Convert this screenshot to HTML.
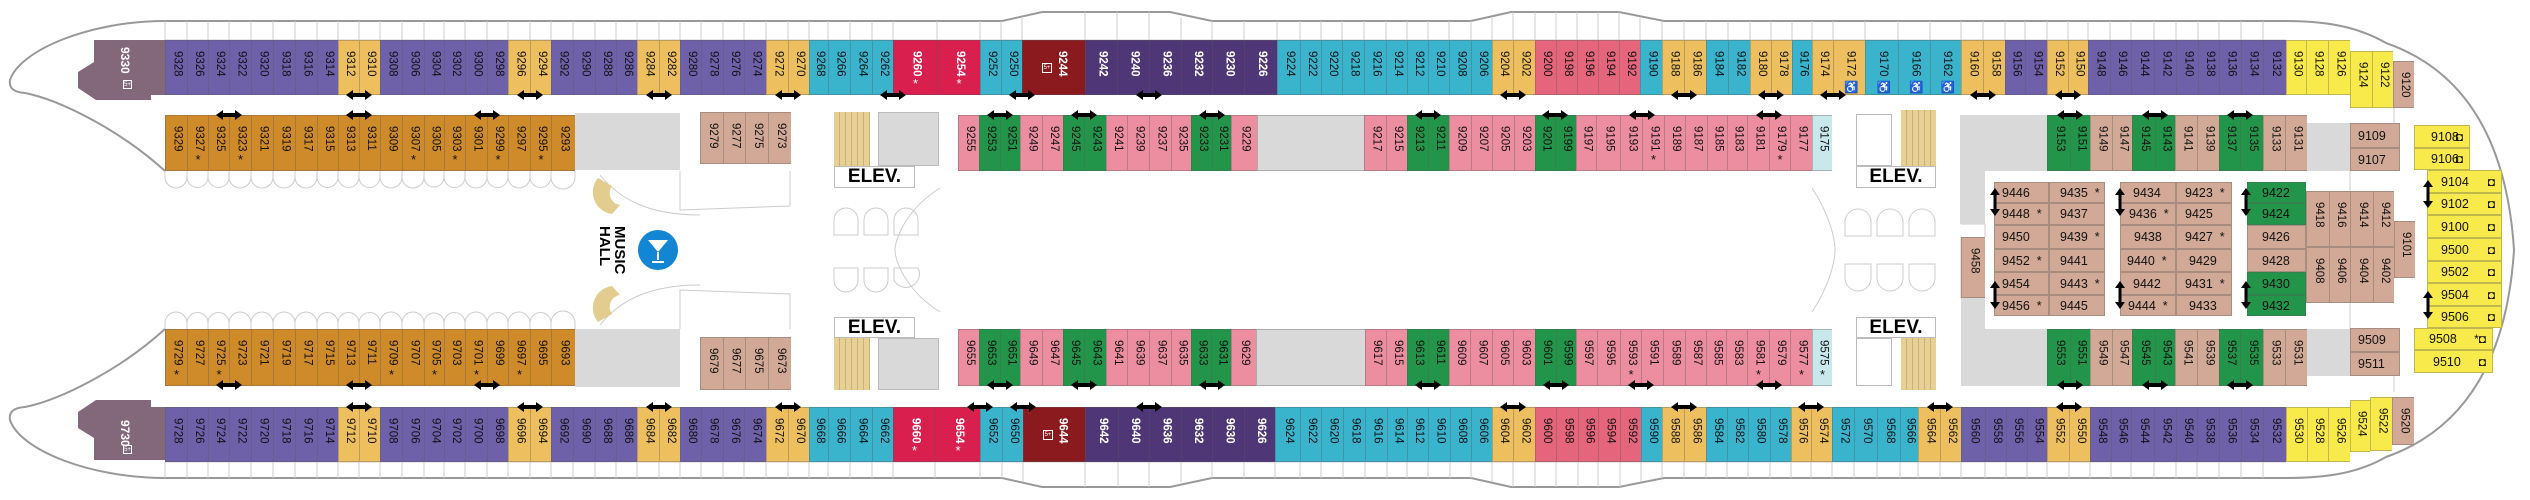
<!DOCTYPE html>
<html><head><meta charset="utf-8">
<style>
body{margin:0;width:2530px;height:500px;background:#fff;position:relative;overflow:hidden;font-family:"Liberation Sans",sans-serif}
.row{position:absolute;left:0;width:2530px}
.r1{top:40px;height:55px}.r2{top:115px;height:56px}.r3{top:329px;height:57px}.r4{top:407px;height:55px}
.c{position:absolute;top:0;height:100%;box-sizing:border-box;border:1px solid rgba(90,90,90,.35);border-right:none;display:flex;justify-content:center;font-style:normal;font-size:11.5px;color:#111}
.c b{font-weight:normal;writing-mode:vertical-rl;margin-top:10px;line-height:1}
.c u{position:absolute;bottom:3px;left:0;right:0;text-align:center;text-decoration:none;font-size:13px}
.w{color:#fff}.w b{font-weight:bold}
.P{background:#6e61aa}.O{background:#eebf5f}.C{background:#3ab3cc}.K{background:#d81f4e;color:#fff}.D{background:#8b1a1f;color:#fff}.V{background:#4f3777;color:#fff}
.R{background:#e5667c}.Q{background:#ec8da0}.G{background:#22954b}.T{background:#d1a996}.A{background:#cf8a2a}.Y{background:#f7ea4a}.L{background:#c8e8ec}.X{background:#d9d9d9}.S{background:#e8cf94}
.a{position:absolute;box-sizing:border-box}
.h{position:absolute;box-sizing:border-box;border:1px solid rgba(90,90,90,.35);font-size:12.5px;display:flex;align-items:center;padding-left:7px;color:#111}
.el{position:absolute;box-sizing:border-box;border:1px solid #bbb;background:#fff;font:bold 19px "Liberation Sans Narrow","Liberation Sans",sans-serif;display:flex;align-items:center;justify-content:center;transform-origin:center}
.ic{position:absolute;right:6px;font-size:12px}
</style></head><body>

<svg width="2530" height="500" style="position:absolute;left:0;top:0">
<defs>
<symbol id="ah" viewBox="0 0 26 10"><path d="M0 5 L7 0 L7 3 L19 3 L19 0 L26 5 L19 10 L19 7 L7 7 L7 10 Z" fill="#000"/></symbol>
<symbol id="av" viewBox="0 0 10 28"><path d="M5 0 L10 7 L6.5 7 L6.5 21 L10 21 L5 28 L0 21 L3.5 21 L3.5 7 L0 7 Z" fill="#000"/></symbol>
</defs>
<g fill="none" stroke="#999" stroke-width="2">
<path d="M2286 21 L1664 21 L1619 12 L1511 12 L1471 21 L1212 21 L1170 12 L1042 12 L1002 21 L165 21 C90 21 20 50 10 80 Q8 92 25 93 C60 100 120 130 165 171"/>
<path d="M2286 478 L1664 478 L1619 487 L1511 487 L1471 478 L1212 478 L1170 487 L1042 487 L1002 478 L165 478 C90 478 20 450 10 420 Q8 408 25 407 C60 400 120 370 165 329"/>
<path d="M2286 21 C2330 21 2360 28 2386 43 C2440 62 2505 110 2514 250 C2505 390 2440 438 2386 457 C2360 472 2330 478 2286 478"/>
</g>
<g fill="none" stroke="#ccc" stroke-width="1">
<path d="M165 40 H2286 M165 462 H2286 M165 21 V40 M187 21 V40 M208 21 V40 M229 21 V40 M251 21 V40 M273 21 V40 M295 21 V40 M317 21 V40 M338 21 V40 M359 21 V40 M380 21 V40 M402 21 V40 M424 21 V40 M444 21 V40 M465 21 V40 M487 21 V40 M508 21 V40 M530 21 V40 M551 21 V40 M573 21 V40 M595 21 V40 M616 21 V40 M637 21 V40 M659 21 V40 M680 21 V40 M701 21 V40 M723 21 V40 M744 21 V40 M766 21 V40 M788 21 V40 M809 21 V40 M828 21 V40 M850 21 V40 M872 21 V40 M893 21 V40 M937 21 V40 M980 21 V40 M1001 21 V40 M1022 18 V40 M1085 12 V40 M1117 12 V40 M1149 12 V40 M1181 18 V40 M1212 21 V40 M1244 21 V40 M1277 21 V40 M1300 21 V40 M1321 21 V40 M1342 21 V40 M1364 21 V40 M1386 21 V40 M1407 21 V40 M1428 21 V40 M1449 21 V40 M1471 21 V40 M1492 18 V40 M1513 12 V40 M1535 12 V40 M1556 12 V40 M1577 12 V40 M1598 12 V40 M1619 12 V40 M1640 18 V40 M1662 21 V40 M1684 21 V40 M1706 21 V40 M1728 21 V40 M1750 21 V40 M1771 21 V40 M1792 21 V40 M1812 21 V40 M1833 21 V40 M1865 21 V40 M1898 21 V40 M1930 21 V40 M1961 21 V40 M1983 21 V40 M2005 21 V40 M2025 21 V40 M2047 21 V40 M2068 21 V40 M2088 21 V40 M2110 21 V40 M2131 21 V40 M2154 21 V40 M2176 21 V40 M2198 21 V40 M2219 21 V40 M2241 21 V40 M2263 21 V40"/>
<path d="M165 462 V478 M187 462 V478 M208 462 V478 M229 462 V478 M251 462 V478 M273 462 V478 M295 462 V478 M317 462 V478 M338 462 V478 M359 462 V478 M380 462 V478 M402 462 V478 M424 462 V478 M444 462 V478 M465 462 V478 M487 462 V478 M508 462 V478 M530 462 V478 M551 462 V478 M573 462 V478 M595 462 V478 M616 462 V478 M637 462 V478 M659 462 V478 M680 462 V478 M701 462 V478 M723 462 V478 M744 462 V478 M766 462 V478 M788 462 V478 M809 462 V478 M828 462 V478 M850 462 V478 M872 462 V478 M893 462 V478 M935 462 V478 M980 462 V478 M1002 462 V478 M1023 462 V482 M1085 462 V487 M1118 462 V487 M1149 462 V487 M1181 462 V482 M1212 462 V478 M1244 462 V478 M1275 462 V478 M1300 462 V478 M1321 462 V478 M1343 462 V478 M1365 462 V478 M1387 462 V478 M1407 462 V478 M1428 462 V478 M1450 462 V478 M1471 462 V478 M1492 462 V482 M1513 462 V487 M1535 462 V487 M1556 462 V487 M1578 462 V487 M1598 462 V487 M1620 462 V487 M1641 462 V482 M1662 462 V478 M1684 462 V478 M1706 462 V478 M1727 462 V478 M1748 462 V478 M1770 462 V478 M1791 462 V478 M1811 462 V478 M1832 462 V478 M1854 462 V478 M1877 462 V478 M1900 462 V478 M1918 462 V478 M1940 462 V478 M1961 462 V478 M1985 462 V478 M2006 462 V478 M2027 462 V478 M2047 462 V478 M2069 462 V478 M2090 462 V478 M2111 462 V478 M2131 462 V478 M2154 462 V478 M2176 462 V478 M2197 462 V478 M2219 462 V478 M2241 462 V478 M2263 462 V478"/>
<!-- stern balcony arcs -->
<path d="M165 171 V177 A11 11 0 0 0 187 177 V171 M187 177 A10.5 10.5 0 0 0 208 177 V171 M208 177 A10.5 10.5 0 0 0 229 177 V171 M229 177 A11 11 0 0 0 251 177 V171 M251 177 A11 11 0 0 0 273 177 V171 M273 177 A11 11 0 0 0 295 177 V171 M295 177 A11 11 0 0 0 317 177 V171 M317 177 A10.5 10.5 0 0 0 338 177 V171 M338 177 A10.5 10.5 0 0 0 359 177 V171 M359 177 A10.5 10.5 0 0 0 380 177 V171 M380 177 A11 11 0 0 0 402 177 V171 M402 177 A11 11 0 0 0 424 177 V171 M424 177 A10 10 0 0 0 444 177 V171 M444 177 A10.5 10.5 0 0 0 465 177 V171 M465 177 A11 11 0 0 0 487 177 V171 M487 177 A10.5 10.5 0 0 0 508 177 V171 M508 177 A11 11 0 0 0 530 177 V171 M530 177 A10.5 10.5 0 0 0 551 177 V171 M551 177 A12 12 0 0 0 575 177 V171"/>
<path d="M165 329 V323 A11 11 0 0 1 187 323 V329 M187 323 A10.5 10.5 0 0 1 208 323 V329 M208 323 A10.5 10.5 0 0 1 229 323 V329 M229 323 A11 11 0 0 1 251 323 V329 M251 323 A11 11 0 0 1 273 323 V329 M273 323 A11 11 0 0 1 295 323 V329 M295 323 A11 11 0 0 1 317 323 V329 M317 323 A10.5 10.5 0 0 1 338 323 V329 M338 323 A10.5 10.5 0 0 1 359 323 V329 M359 323 A10.5 10.5 0 0 1 380 323 V329 M380 323 A11 11 0 0 1 402 323 V329 M402 323 A11 11 0 0 1 424 323 V329 M424 323 A10 10 0 0 1 444 323 V329 M444 323 A10.5 10.5 0 0 1 465 323 V329 M465 323 A11 11 0 0 1 487 323 V329 M487 323 A10.5 10.5 0 0 1 508 323 V329 M508 323 A11 11 0 0 1 530 323 V329 M530 323 A10.5 10.5 0 0 1 551 323 V329 M551 323 A12 12 0 0 1 575 323 V329"/>
<!-- center structural lines -->
<path d="M680 171 L680 210 L790 206 L790 171 M680 329 L680 290 L790 294 L790 329"/>
<path d="M940 188 C905 210 895 240 895 250 C895 260 905 290 940 312 M1812 188 C1830 215 1835 240 1835 250 C1835 260 1830 285 1812 312"/>
<path d="M600 175 C620 200 650 215 700 215 M600 325 C620 300 650 285 700 285"/>
<path d="M834 235 V220 A12 12 0 0 1 858 220 V235 Z M864 235 V220 A12 12 0 0 1 888 220 V235 Z M894 235 V220 A12 12 0 0 1 918 220 V235 Z"/>
<path d="M834 268 V280 A12 12 0 0 0 858 280 V268 Z M864 268 V280 A12 12 0 0 0 888 280 V268 Z M894 268 V280 A12 12 0 0 0 918 268 Z"/>
<path d="M1845 236 V222 A13 13 0 0 1 1871 222 V236 Z M1877 236 V222 A13 13 0 0 1 1903 222 V236 Z M1909 236 V222 A13 13 0 0 1 1935 222 V236 Z"/>
<path d="M1845 264 V278 A13 13 0 0 0 1871 278 V264 Z M1877 264 V278 A13 13 0 0 0 1903 278 V264 Z M1909 264 V278 A13 13 0 0 0 1935 278 V264 Z"/>
<path d="M1961 224 H1985 V237 M1961 298 V237 M2350 171 V200 M2350 329 V300 M2394 108 V125 M2394 392 V376"/>
</g>
<polygon points="94,40 165,40 165,95 151,95 151,100 96,100 78,88 78,72 94,62" fill="#82687a"/>
<polygon points="94,460 165,460 165,407 151,407 151,400 96,400 78,412 78,428 94,438" fill="#82687a"/>
<path d="M598 178 A22 22 0 0 0 612 214 L620 205 A12 12 0 0 1 612 186 Z" fill="#e2cc8e"/>
<path d="M598 322 A22 22 0 0 1 612 286 L620 295 A12 12 0 0 0 612 314 Z" fill="#e2cc8e"/>
<circle cx="658" cy="250" r="20" fill="#1386d3"/>
<path d="M648 240 L668 240 L658 252 Z M657 252 H659 V260 H657 Z M652 261 H664 V263 H652 Z" fill="#fff"/>
</svg>

<div class="a" style="left:118px;top:47px;color:#fff;font-weight:bold;font-size:12px;writing-mode:vertical-rl">9330</div>
<div class="a" style="left:123px;top:80px;width:9px;height:9px;border:1px solid #fff;color:#fff;font-size:6px;line-height:8px;text-align:center">5+</div>
<div class="a" style="left:118px;top:420px;color:#fff;font-weight:bold;font-size:12px;writing-mode:vertical-rl">9730</div>
<div class="a" style="left:123px;top:445px;width:9px;height:9px;border:1px solid #fff;color:#fff;font-size:6px;line-height:8px;text-align:center">5+</div>
<div class="a" style="left:597px;top:226px;font:bold 15px 'Liberation Sans',sans-serif;writing-mode:vertical-rl;line-height:15px;color:#000">MUSIC<br>HALL</div>

<div class="a X" style="left:575px;top:113px;width:105px;height:57px"></div>
<div class="a X" style="left:575px;top:329px;width:105px;height:58px"></div>
<div class="a X" style="left:878px;top:112px;width:61px;height:54px;border:1px solid #bbb"></div>
<div class="a X" style="left:878px;top:338px;width:61px;height:52px;border:1px solid #bbb"></div>
<div class="a S" style="left:834px;top:112px;width:36px;height:54px;background-image:repeating-linear-gradient(90deg,transparent 0 5px,#c9b27a 5px 6px)"></div>
<div class="a S" style="left:834px;top:338px;width:36px;height:52px;background-image:repeating-linear-gradient(90deg,transparent 0 5px,#c9b27a 5px 6px)"></div>
<div class="el" style="left:834px;top:166px;width:81px;height:22px">ELEV.</div>
<div class="el" style="left:834px;top:317px;width:81px;height:21px">ELEV.</div>
<div class="a" style="left:1856px;top:114px;width:36px;height:52px;border:1px solid #bbb"></div>
<div class="a" style="left:1856px;top:338px;width:36px;height:48px;border:1px solid #bbb"></div>
<div class="a S" style="left:1901px;top:110px;width:35px;height:56px;background-image:repeating-linear-gradient(90deg,transparent 0 5px,#c9b27a 5px 6px)"></div>
<div class="a S" style="left:1901px;top:338px;width:35px;height:52px;background-image:repeating-linear-gradient(90deg,transparent 0 5px,#c9b27a 5px 6px)"></div>
<div class="el" style="left:1856px;top:166px;width:80px;height:22px">ELEV.</div>
<div class="el" style="left:1856px;top:317px;width:80px;height:21px">ELEV.</div>
<div class="a X" style="left:1960px;top:115px;width:87px;height:56px"></div>
<div class="a X" style="left:1960px;top:171px;width:25px;height:53px"></div>
<div class="a X" style="left:1961px;top:329px;width:86px;height:57px"></div>
<div class="a X" style="left:1961px;top:298px;width:24px;height:31px"></div>
<div class="a X" style="left:2307px;top:123px;width:43px;height:48px"></div>
<div class="a X" style="left:2307px;top:329px;width:43px;height:47px"></div>
<div class="c T" style="left:1961px;top:237px;width:24px;height:61px"><b>9458</b></div>

<div class="row r1">
<i class="c P" style="left:165px;width:22px"><b>9328</b></i><i class="c P" style="left:187px;width:21px"><b>9326</b></i><i class="c P" style="left:208px;width:21px"><b>9324</b></i><i class="c P" style="left:229px;width:22px"><b>9322</b></i><i class="c P" style="left:251px;width:22px"><b>9320</b></i><i class="c P" style="left:273px;width:22px"><b>9318</b></i><i class="c P" style="left:295px;width:22px"><b>9316</b></i><i class="c P" style="left:317px;width:21px"><b>9314</b></i><i class="c O" style="left:338px;width:21px"><b>9312</b></i><i class="c O" style="left:359px;width:21px"><b>9310</b></i><i class="c P" style="left:380px;width:22px"><b>9308</b></i><i class="c P" style="left:402px;width:22px"><b>9306</b></i><i class="c P" style="left:424px;width:20px"><b>9304</b></i><i class="c P" style="left:444px;width:21px"><b>9302</b></i><i class="c P" style="left:465px;width:22px"><b>9300</b></i><i class="c P" style="left:487px;width:21px"><b>9298</b></i><i class="c O" style="left:508px;width:22px"><b>9296</b></i><i class="c O" style="left:530px;width:21px"><b>9294</b></i><i class="c P" style="left:551px;width:22px"><b>9292</b></i><i class="c P" style="left:573px;width:22px"><b>9290</b></i><i class="c P" style="left:595px;width:21px"><b>9288</b></i><i class="c P" style="left:616px;width:21px"><b>9286</b></i><i class="c O" style="left:637px;width:22px"><b>9284</b></i><i class="c O" style="left:659px;width:21px"><b>9282</b></i><i class="c P" style="left:680px;width:21px"><b>9280</b></i><i class="c P" style="left:701px;width:22px"><b>9278</b></i><i class="c P" style="left:723px;width:21px"><b>9276</b></i><i class="c P" style="left:744px;width:22px"><b>9274</b></i><i class="c O" style="left:766px;width:22px"><b>9272</b></i><i class="c O" style="left:788px;width:21px"><b>9270</b></i><i class="c C" style="left:809px;width:19px"><b>9268</b></i><i class="c C" style="left:828px;width:22px"><b>9266</b></i><i class="c C" style="left:850px;width:22px"><b>9264</b></i><i class="c C" style="left:872px;width:21px"><b>9262</b></i><i class="c K w" style="left:893px;width:44px"><b>9260</b><u>*</u></i><i class="c K w" style="left:937px;width:43px"><b>9254</b><u>*</u></i><i class="c C" style="left:980px;width:21px"><b>9252</b></i><i class="c C" style="left:1001px;width:21px"><b>9250</b></i><i class="c D w" style="left:1022px;width:63px"><b style="margin-left:14px">9244</b><span style="position:absolute;left:19px;top:22px;width:8px;height:8px;border:1px solid #fff;font-size:6px;line-height:8px;text-align:center">5+</span></i><i class="c V w" style="left:1085px;width:32px"><b>9242</b></i><i class="c V w" style="left:1117px;width:32px"><b>9240</b></i><i class="c V w" style="left:1149px;width:32px"><b>9236</b></i><i class="c V w" style="left:1181px;width:31px"><b>9232</b></i><i class="c V w" style="left:1212px;width:32px"><b>9230</b></i><i class="c V w" style="left:1244px;width:33px"><b>9226</b></i><i class="c C" style="left:1277px;width:23px"><b>9224</b></i><i class="c C" style="left:1300px;width:21px"><b>9222</b></i><i class="c C" style="left:1321px;width:21px"><b>9220</b></i><i class="c C" style="left:1342px;width:22px"><b>9218</b></i><i class="c C" style="left:1364px;width:22px"><b>9216</b></i><i class="c C" style="left:1386px;width:21px"><b>9214</b></i><i class="c C" style="left:1407px;width:21px"><b>9212</b></i><i class="c C" style="left:1428px;width:21px"><b>9210</b></i><i class="c C" style="left:1449px;width:22px"><b>9208</b></i><i class="c C" style="left:1471px;width:21px"><b>9206</b></i><i class="c O" style="left:1492px;width:21px"><b>9204</b></i><i class="c O" style="left:1513px;width:22px"><b>9202</b></i><i class="c R" style="left:1535px;width:21px"><b>9200</b></i><i class="c R" style="left:1556px;width:21px"><b>9198</b></i><i class="c R" style="left:1577px;width:21px"><b>9196</b></i><i class="c R" style="left:1598px;width:21px"><b>9194</b></i><i class="c R" style="left:1619px;width:21px"><b>9192</b></i><i class="c C" style="left:1640px;width:22px"><b>9190</b></i><i class="c O" style="left:1662px;width:22px"><b>9188</b></i><i class="c O" style="left:1684px;width:22px"><b>9186</b></i><i class="c C" style="left:1706px;width:22px"><b>9184</b></i><i class="c C" style="left:1728px;width:22px"><b>9182</b></i><i class="c O" style="left:1750px;width:21px"><b>9180</b></i><i class="c O" style="left:1771px;width:21px"><b>9178</b></i><i class="c C" style="left:1792px;width:20px"><b>9176</b></i><i class="c O" style="left:1812px;width:21px"><b>9174</b></i><i class="c O" style="left:1833px;width:32px"><b>9172 ♿</b></i><i class="c C" style="left:1865px;width:33px"><b>9170 ♿</b></i><i class="c C" style="left:1898px;width:32px"><b>9166 ♿</b></i><i class="c C" style="left:1930px;width:31px"><b>9162 ♿</b></i><i class="c O" style="left:1961px;width:22px"><b>9160</b></i><i class="c O" style="left:1983px;width:22px"><b>9158</b></i><i class="c P" style="left:2005px;width:20px"><b>9156</b></i><i class="c P" style="left:2025px;width:22px"><b>9154</b></i><i class="c O" style="left:2047px;width:21px"><b>9152</b></i><i class="c O" style="left:2068px;width:20px"><b>9150</b></i><i class="c P" style="left:2088px;width:22px"><b>9148</b></i><i class="c P" style="left:2110px;width:21px"><b>9146</b></i><i class="c P" style="left:2131px;width:23px"><b>9144</b></i><i class="c P" style="left:2154px;width:22px"><b>9142</b></i><i class="c P" style="left:2176px;width:22px"><b>9140</b></i><i class="c P" style="left:2198px;width:21px"><b>9138</b></i><i class="c P" style="left:2219px;width:22px"><b>9136</b></i><i class="c P" style="left:2241px;width:22px"><b>9134</b></i><i class="c P" style="left:2263px;width:23px"><b>9132</b></i><i class="c Y" style="left:2286px;width:20px"><b>9130</b></i><i class="c Y" style="left:2306px;width:22px"><b>9128</b></i><i class="c Y" style="left:2328px;width:22px"><b>9126</b></i>
<i class="c Y" style="left:2350px;width:22px;top:11px;height:57px"><b>9124</b></i><i class="c Y" style="left:2372px;width:21px;top:11px;height:57px"><b>9122</b></i><i class="c T" style="left:2393px;width:21px;top:21px;height:47px"><b>9120</b></i>
</div>

<div class="row r2">
<i class="c A" style="left:165px;width:22px"><b>9329</b></i><i class="c A" style="left:187px;width:21px"><b>9327</b><u>*</u></i><i class="c A" style="left:208px;width:21px"><b>9325</b></i><i class="c A" style="left:229px;width:22px"><b>9323</b><u>*</u></i><i class="c A" style="left:251px;width:22px"><b>9321</b></i><i class="c A" style="left:273px;width:22px"><b>9319</b></i><i class="c A" style="left:295px;width:22px"><b>9317</b></i><i class="c A" style="left:317px;width:21px"><b>9315</b></i><i class="c A" style="left:338px;width:21px"><b>9313</b></i><i class="c A" style="left:359px;width:21px"><b>9311</b></i><i class="c A" style="left:380px;width:22px"><b>9309</b></i><i class="c A" style="left:402px;width:22px"><b>9307</b><u>*</u></i><i class="c A" style="left:424px;width:20px"><b>9305</b></i><i class="c A" style="left:444px;width:21px"><b>9303</b><u>*</u></i><i class="c A" style="left:465px;width:22px"><b>9301</b></i><i class="c A" style="left:487px;width:21px"><b>9299</b><u>*</u></i><i class="c A" style="left:508px;width:22px"><b>9297</b></i><i class="c A" style="left:530px;width:21px"><b>9295</b><u>*</u></i><i class="c A" style="left:551px;width:24px"><b>9293</b></i>
<i class="c T" style="left:700px;width:23px;top:-3px;height:52px"><b>9279</b></i><i class="c T" style="left:723px;width:22px;top:-3px;height:52px"><b>9277</b></i><i class="c T" style="left:745px;width:23px;top:-3px;height:52px"><b>9275</b></i><i class="c T" style="left:768px;width:23px;top:-3px;height:52px"><b>9273</b></i>
<i class="c Q" style="left:958px;width:21px"><b>9255</b></i><i class="c G" style="left:979px;width:21px"><b>9253</b></i><i class="c G" style="left:1000px;width:20px"><b>9251</b></i><i class="c Q" style="left:1020px;width:22px"><b>9249</b></i><i class="c Q" style="left:1042px;width:21px"><b>9247</b></i><i class="c G" style="left:1063px;width:21px"><b>9245</b></i><i class="c G" style="left:1084px;width:22px"><b>9243</b></i><i class="c Q" style="left:1106px;width:21px"><b>9241</b></i><i class="c Q" style="left:1127px;width:22px"><b>9239</b></i><i class="c Q" style="left:1149px;width:22px"><b>9237</b></i><i class="c Q" style="left:1171px;width:20px"><b>9235</b></i><i class="c G" style="left:1191px;width:21px"><b>9233</b></i><i class="c G" style="left:1212px;width:19px"><b>9231</b></i><i class="c Q" style="left:1231px;width:26px"><b>9229</b></i><i class="c X" style="left:1257px;width:107px"></i><i class="c Q" style="left:1364px;width:22px"><b>9217</b></i><i class="c Q" style="left:1386px;width:21px"><b>9215</b></i><i class="c G" style="left:1407px;width:21px"><b>9213</b></i><i class="c G" style="left:1428px;width:21px"><b>9211</b></i><i class="c Q" style="left:1449px;width:22px"><b>9209</b></i><i class="c Q" style="left:1471px;width:21px"><b>9207</b></i><i class="c Q" style="left:1492px;width:22px"><b>9205</b></i><i class="c Q" style="left:1514px;width:21px"><b>9203</b></i><i class="c G" style="left:1535px;width:20px"><b>9201</b></i><i class="c G" style="left:1555px;width:21px"><b>9199</b></i><i class="c Q" style="left:1576px;width:20px"><b>9197</b></i><i class="c Q" style="left:1596px;width:24px"><b>9195</b></i><i class="c Q" style="left:1620px;width:22px"><b>9193</b></i><i class="c Q" style="left:1642px;width:22px"><b>9191</b><u>*</u></i><i class="c Q" style="left:1664px;width:21px"><b>9189</b></i><i class="c Q" style="left:1685px;width:22px"><b>9187</b></i><i class="c Q" style="left:1707px;width:20px"><b>9185</b></i><i class="c Q" style="left:1727px;width:20px"><b>9183</b></i><i class="c Q" style="left:1747px;width:22px"><b>9181</b></i><i class="c Q" style="left:1769px;width:21px"><b>9179</b><u>*</u></i><i class="c Q" style="left:1790px;width:22px"><b>9177</b></i><i class="c L" style="left:1812px;width:20px"><b>9175</b></i>
<i class="c G" style="left:2047px;width:23px"><b>9153</b></i><i class="c G" style="left:2070px;width:20px"><b>9151</b></i><i class="c T" style="left:2090px;width:22px"><b>9149</b></i><i class="c T" style="left:2112px;width:20px"><b>9147</b></i><i class="c G" style="left:2132px;width:23px"><b>9145</b></i><i class="c G" style="left:2155px;width:20px"><b>9143</b></i><i class="c T" style="left:2175px;width:22px"><b>9141</b></i><i class="c T" style="left:2197px;width:22px"><b>9139</b></i><i class="c G" style="left:2219px;width:21px"><b>9137</b></i><i class="c G" style="left:2240px;width:23px"><b>9135</b></i><i class="c T" style="left:2263px;width:22px"><b>9133</b></i><i class="c T" style="left:2285px;width:22px"><b>9131</b></i>
</div>

<div class="row r3">
<i class="c A" style="left:165px;width:22px"><b>9729</b><u>*</u></i><i class="c A" style="left:187px;width:21px"><b>9727</b></i><i class="c A" style="left:208px;width:21px"><b>9725</b><u>*</u></i><i class="c A" style="left:229px;width:22px"><b>9723</b></i><i class="c A" style="left:251px;width:22px"><b>9721</b></i><i class="c A" style="left:273px;width:22px"><b>9719</b></i><i class="c A" style="left:295px;width:22px"><b>9717</b></i><i class="c A" style="left:317px;width:21px"><b>9715</b></i><i class="c A" style="left:338px;width:21px"><b>9713</b></i><i class="c A" style="left:359px;width:21px"><b>9711</b></i><i class="c A" style="left:380px;width:22px"><b>9709</b><u>*</u></i><i class="c A" style="left:402px;width:22px"><b>9707</b></i><i class="c A" style="left:424px;width:20px"><b>9705</b><u>*</u></i><i class="c A" style="left:444px;width:21px"><b>9703</b></i><i class="c A" style="left:465px;width:22px"><b>9701</b><u>*</u></i><i class="c A" style="left:487px;width:21px"><b>9699</b></i><i class="c A" style="left:508px;width:22px"><b>9697</b><u>*</u></i><i class="c A" style="left:530px;width:21px"><b>9695</b></i><i class="c A" style="left:551px;width:24px"><b>9693</b></i>
<i class="c T" style="left:700px;width:23px;top:8px;height:53px"><b>9679</b></i><i class="c T" style="left:723px;width:22px;top:8px;height:53px"><b>9677</b></i><i class="c T" style="left:745px;width:23px;top:8px;height:53px"><b>9675</b></i><i class="c T" style="left:768px;width:23px;top:8px;height:53px"><b>9673</b></i>
<i class="c Q" style="left:958px;width:21px"><b>9655</b></i><i class="c G" style="left:979px;width:21px"><b>9653</b></i><i class="c G" style="left:1000px;width:20px"><b>9651</b></i><i class="c Q" style="left:1020px;width:22px"><b>9649</b></i><i class="c Q" style="left:1042px;width:21px"><b>9647</b></i><i class="c G" style="left:1063px;width:21px"><b>9645</b></i><i class="c G" style="left:1084px;width:22px"><b>9643</b></i><i class="c Q" style="left:1106px;width:21px"><b>9641</b></i><i class="c Q" style="left:1127px;width:22px"><b>9639</b></i><i class="c Q" style="left:1149px;width:22px"><b>9637</b></i><i class="c Q" style="left:1171px;width:20px"><b>9635</b></i><i class="c G" style="left:1191px;width:20px"><b>9633</b></i><i class="c G" style="left:1211px;width:20px"><b>9631</b></i><i class="c Q" style="left:1231px;width:25px"><b>9629</b></i><i class="c X" style="left:1256px;width:109px"></i><i class="c Q" style="left:1365px;width:21px"><b>9617</b></i><i class="c Q" style="left:1386px;width:21px"><b>9615</b></i><i class="c G" style="left:1407px;width:21px"><b>9613</b></i><i class="c G" style="left:1428px;width:21px"><b>9611</b></i><i class="c Q" style="left:1449px;width:21px"><b>9609</b></i><i class="c Q" style="left:1470px;width:22px"><b>9607</b></i><i class="c Q" style="left:1492px;width:21px"><b>9605</b></i><i class="c Q" style="left:1513px;width:22px"><b>9603</b></i><i class="c G" style="left:1535px;width:21px"><b>9601</b></i><i class="c G" style="left:1556px;width:20px"><b>9599</b></i><i class="c Q" style="left:1576px;width:21px"><b>9597</b></i><i class="c Q" style="left:1597px;width:23px"><b>9595</b></i><i class="c Q" style="left:1620px;width:21px"><b>9593</b><u>*</u></i><i class="c Q" style="left:1641px;width:22px"><b>9591</b></i><i class="c Q" style="left:1663px;width:22px"><b>9589</b></i><i class="c Q" style="left:1685px;width:21px"><b>9587</b></i><i class="c Q" style="left:1706px;width:20px"><b>9585</b></i><i class="c Q" style="left:1726px;width:21px"><b>9583</b></i><i class="c Q" style="left:1747px;width:22px"><b>9581</b><u>*</u></i><i class="c Q" style="left:1769px;width:21px"><b>9579</b></i><i class="c Q" style="left:1790px;width:22px"><b>9577</b><u>*</u></i><i class="c L" style="left:1812px;width:20px"><b>9575</b><u>*</u></i>
<i class="c G" style="left:2047px;width:23px"><b>9553</b></i><i class="c G" style="left:2070px;width:20px"><b>9551</b></i><i class="c T" style="left:2090px;width:22px"><b>9549</b></i><i class="c T" style="left:2112px;width:20px"><b>9547</b></i><i class="c G" style="left:2132px;width:23px"><b>9545</b></i><i class="c G" style="left:2155px;width:20px"><b>9543</b></i><i class="c T" style="left:2175px;width:22px"><b>9541</b></i><i class="c T" style="left:2197px;width:22px"><b>9539</b></i><i class="c G" style="left:2219px;width:21px"><b>9537</b></i><i class="c G" style="left:2240px;width:23px"><b>9535</b></i><i class="c T" style="left:2263px;width:22px"><b>9533</b></i><i class="c T" style="left:2285px;width:22px"><b>9531</b></i>
</div>

<div class="row r4">
<i class="c P" style="left:165px;width:22px"><b>9728</b></i><i class="c P" style="left:187px;width:21px"><b>9726</b></i><i class="c P" style="left:208px;width:21px"><b>9724</b></i><i class="c P" style="left:229px;width:22px"><b>9722</b></i><i class="c P" style="left:251px;width:22px"><b>9720</b></i><i class="c P" style="left:273px;width:22px"><b>9718</b></i><i class="c P" style="left:295px;width:22px"><b>9716</b></i><i class="c P" style="left:317px;width:21px"><b>9714</b></i><i class="c O" style="left:338px;width:21px"><b>9712</b></i><i class="c O" style="left:359px;width:21px"><b>9710</b></i><i class="c P" style="left:380px;width:22px"><b>9708</b></i><i class="c P" style="left:402px;width:22px"><b>9706</b></i><i class="c P" style="left:424px;width:20px"><b>9704</b></i><i class="c P" style="left:444px;width:21px"><b>9702</b></i><i class="c P" style="left:465px;width:22px"><b>9700</b></i><i class="c P" style="left:487px;width:21px"><b>9698</b></i><i class="c O" style="left:508px;width:22px"><b>9696</b></i><i class="c O" style="left:530px;width:21px"><b>9694</b></i><i class="c P" style="left:551px;width:22px"><b>9692</b></i><i class="c P" style="left:573px;width:22px"><b>9690</b></i><i class="c P" style="left:595px;width:21px"><b>9688</b></i><i class="c P" style="left:616px;width:21px"><b>9686</b></i><i class="c O" style="left:637px;width:22px"><b>9684</b></i><i class="c O" style="left:659px;width:21px"><b>9682</b></i><i class="c P" style="left:680px;width:21px"><b>9680</b></i><i class="c P" style="left:701px;width:22px"><b>9678</b></i><i class="c P" style="left:723px;width:21px"><b>9676</b></i><i class="c P" style="left:744px;width:22px"><b>9674</b></i><i class="c O" style="left:766px;width:22px"><b>9672</b></i><i class="c O" style="left:788px;width:21px"><b>9670</b></i><i class="c C" style="left:809px;width:19px"><b>9668</b></i><i class="c C" style="left:828px;width:22px"><b>9666</b></i><i class="c C" style="left:850px;width:22px"><b>9664</b></i><i class="c C" style="left:872px;width:21px"><b>9662</b></i><i class="c K w" style="left:893px;width:42px"><b>9660</b><u>*</u></i><i class="c K w" style="left:935px;width:45px"><b>9654</b><u>*</u></i><i class="c C" style="left:980px;width:22px"><b>9652</b></i><i class="c C" style="left:1002px;width:21px"><b>9650</b></i><i class="c D w" style="left:1023px;width:62px"><b style="margin-left:14px">9644</b><span style="position:absolute;left:19px;top:22px;width:8px;height:8px;border:1px solid #fff;font-size:6px;line-height:8px;text-align:center">5+</span></i><i class="c V w" style="left:1085px;width:33px"><b>9642</b></i><i class="c V w" style="left:1118px;width:31px"><b>9640</b></i><i class="c V w" style="left:1149px;width:32px"><b>9636</b></i><i class="c V w" style="left:1181px;width:31px"><b>9632</b></i><i class="c V w" style="left:1212px;width:32px"><b>9630</b></i><i class="c V w" style="left:1244px;width:31px"><b>9626</b></i><i class="c C" style="left:1275px;width:25px"><b>9624</b></i><i class="c C" style="left:1300px;width:21px"><b>9622</b></i><i class="c C" style="left:1321px;width:22px"><b>9620</b></i><i class="c C" style="left:1343px;width:22px"><b>9618</b></i><i class="c C" style="left:1365px;width:22px"><b>9616</b></i><i class="c C" style="left:1387px;width:20px"><b>9614</b></i><i class="c C" style="left:1407px;width:21px"><b>9612</b></i><i class="c C" style="left:1428px;width:22px"><b>9610</b></i><i class="c C" style="left:1450px;width:21px"><b>9608</b></i><i class="c C" style="left:1471px;width:21px"><b>9606</b></i><i class="c O" style="left:1492px;width:21px"><b>9604</b></i><i class="c O" style="left:1513px;width:22px"><b>9602</b></i><i class="c R" style="left:1535px;width:21px"><b>9600</b></i><i class="c R" style="left:1556px;width:22px"><b>9598</b></i><i class="c R" style="left:1578px;width:20px"><b>9596</b></i><i class="c R" style="left:1598px;width:22px"><b>9594</b></i><i class="c R" style="left:1620px;width:21px"><b>9592</b></i><i class="c C" style="left:1641px;width:21px"><b>9590</b></i><i class="c O" style="left:1662px;width:22px"><b>9588</b></i><i class="c O" style="left:1684px;width:22px"><b>9586</b></i><i class="c C" style="left:1706px;width:21px"><b>9584</b></i><i class="c C" style="left:1727px;width:21px"><b>9582</b></i><i class="c C" style="left:1748px;width:22px"><b>9580</b></i><i class="c C" style="left:1770px;width:21px"><b>9578</b></i><i class="c O" style="left:1791px;width:20px"><b>9576</b></i><i class="c O" style="left:1811px;width:21px"><b>9574</b></i><i class="c C" style="left:1832px;width:22px"><b>9572</b></i><i class="c C" style="left:1854px;width:23px"><b>9570</b></i><i class="c C" style="left:1877px;width:23px"><b>9568</b></i><i class="c C" style="left:1900px;width:18px"><b>9566</b></i><i class="c O" style="left:1918px;width:22px"><b>9564</b></i><i class="c O" style="left:1940px;width:21px"><b>9562</b></i><i class="c P" style="left:1961px;width:24px"><b>9560</b></i><i class="c P" style="left:1985px;width:21px"><b>9558</b></i><i class="c P" style="left:2006px;width:21px"><b>9556</b></i><i class="c P" style="left:2027px;width:20px"><b>9554</b></i><i class="c O" style="left:2047px;width:22px"><b>9552</b></i><i class="c O" style="left:2069px;width:21px"><b>9550</b></i><i class="c P" style="left:2090px;width:21px"><b>9548</b></i><i class="c P" style="left:2111px;width:20px"><b>9546</b></i><i class="c P" style="left:2131px;width:23px"><b>9544</b></i><i class="c P" style="left:2154px;width:22px"><b>9542</b></i><i class="c P" style="left:2176px;width:21px"><b>9540</b></i><i class="c P" style="left:2197px;width:22px"><b>9538</b></i><i class="c P" style="left:2219px;width:22px"><b>9536</b></i><i class="c P" style="left:2241px;width:22px"><b>9534</b></i><i class="c P" style="left:2263px;width:23px"><b>9532</b></i><i class="c Y" style="left:2286px;width:21px"><b>9530</b></i><i class="c Y" style="left:2307px;width:21px"><b>9528</b></i><i class="c Y" style="left:2328px;width:22px"><b>9526</b></i>
<i class="c Y" style="left:2350px;width:20px;top:-7px;height:52px"><b>9524</b></i><i class="c Y" style="left:2370px;width:22px;top:-10px;height:54px"><b>9522</b></i><i class="c T" style="left:2392px;width:22px;top:-10px;height:48px"><b>9520</b></i>
</div>

<div class="h T" style="left:2350px;top:123px;width:50px;height:25px">9109</div>
<div class="h T" style="left:2350px;top:148px;width:50px;height:23px">9107</div>
<div class="h T" style="left:2350px;top:328px;width:50px;height:24px">9509</div>
<div class="h T" style="left:2350px;top:352px;width:50px;height:24px">9511</div>
<div class="h Y" style="left:2414px;top:125px;width:56px;height:23px;padding-left:16px">9108<span class="ic">◘</span></div>
<div class="h Y" style="left:2414px;top:148px;width:56px;height:22px;padding-left:16px">9106<span class="ic">◘</span></div>
<div class="h Y" style="left:2427px;top:170px;width:75px;height:23px;padding-left:13px">9104<span class="ic">◘</span></div>
<div class="h Y" style="left:2427px;top:193px;width:75px;height:22px;padding-left:13px">9102<span class="ic">◘</span></div>
<div class="h Y" style="left:2427px;top:215px;width:75px;height:23px;padding-left:13px">9100<span class="ic">◘</span></div>
<div class="h Y" style="left:2427px;top:238px;width:75px;height:23px;padding-left:13px">9500<span class="ic">◘</span></div>
<div class="h Y" style="left:2427px;top:261px;width:75px;height:22px;padding-left:13px">9502<span class="ic">◘</span></div>
<div class="h Y" style="left:2427px;top:283px;width:75px;height:23px;padding-left:13px">9504<span class="ic">◘</span></div>
<div class="h Y" style="left:2427px;top:306px;width:75px;height:22px;padding-left:13px">9506<span class="ic">◘</span></div>
<div class="h Y" style="left:2414px;top:328px;width:79px;height:22px;padding-left:14px">9508 <span class="ic">*◘</span></div>
<div class="h Y" style="left:2414px;top:350px;width:79px;height:23px;padding-left:18px">9510<span class="ic">◘</span></div>

<div class="h T" style="left:1994px;top:182px;width:55px;height:21px">9446</div>
<div class="h T" style="left:1994px;top:203px;width:55px;height:22px">9448 &nbsp;*</div>
<div class="h T" style="left:1994px;top:225px;width:55px;height:24px">9450</div>
<div class="h T" style="left:1994px;top:249px;width:55px;height:23px">9452 &nbsp;*</div>
<div class="h T" style="left:1994px;top:272px;width:55px;height:23px">9454</div>
<div class="h T" style="left:1994px;top:295px;width:55px;height:21px">9456 &nbsp;*</div>
<div class="h T" style="left:2049px;top:182px;width:56px;height:21px;padding-left:10px">9435 &nbsp;*</div>
<div class="h T" style="left:2049px;top:203px;width:56px;height:22px;padding-left:10px">9437</div>
<div class="h T" style="left:2049px;top:225px;width:56px;height:24px;padding-left:10px">9439 &nbsp;*</div>
<div class="h T" style="left:2049px;top:249px;width:56px;height:23px;padding-left:10px">9441</div>
<div class="h T" style="left:2049px;top:272px;width:56px;height:23px;padding-left:10px">9443 &nbsp;*</div>
<div class="h T" style="left:2049px;top:295px;width:56px;height:21px;padding-left:10px">9445</div>
<div class="h T" style="left:2120px;top:182px;width:56px;height:21px;padding-left:12px">9434</div>
<div class="h T" style="left:2120px;top:203px;width:56px;height:22px;padding-left:8px">9436 &nbsp;*</div>
<div class="h T" style="left:2120px;top:225px;width:56px;height:24px;padding-left:13px">9438</div>
<div class="h T" style="left:2120px;top:249px;width:56px;height:23px;padding-left:6px">9440 &nbsp;*</div>
<div class="h T" style="left:2120px;top:272px;width:56px;height:23px;padding-left:12px">9442</div>
<div class="h T" style="left:2120px;top:295px;width:56px;height:21px;padding-left:7px">9444 &nbsp;*</div>
<div class="h T" style="left:2176px;top:182px;width:56px;height:21px;padding-left:8px">9423 &nbsp;*</div>
<div class="h T" style="left:2176px;top:203px;width:56px;height:22px;padding-left:8px">9425</div>
<div class="h T" style="left:2176px;top:225px;width:56px;height:24px;padding-left:8px">9427 &nbsp;*</div>
<div class="h T" style="left:2176px;top:249px;width:56px;height:23px;padding-left:12px">9429</div>
<div class="h T" style="left:2176px;top:272px;width:56px;height:23px;padding-left:8px">9431 &nbsp;*</div>
<div class="h T" style="left:2176px;top:295px;width:56px;height:21px;padding-left:12px">9433</div>
<div class="h G" style="left:2247px;top:182px;width:59px;height:21px;padding-left:14px">9422</div>
<div class="h G" style="left:2247px;top:203px;width:59px;height:22px;padding-left:14px">9424</div>
<div class="h T" style="left:2247px;top:225px;width:59px;height:24px;padding-left:14px">9426</div>
<div class="h T" style="left:2247px;top:249px;width:59px;height:23px;padding-left:14px">9428</div>
<div class="h G" style="left:2247px;top:272px;width:59px;height:23px;padding-left:14px">9430</div>
<div class="h G" style="left:2247px;top:295px;width:59px;height:21px;padding-left:14px">9432</div>
<div class="row" style="top:191px;height:56px"><i class="c T" style="left:2306px;width:23px"><b>9418</b></i><i class="c T" style="left:2329px;width:21px"><b>9416</b></i><i class="c T" style="left:2350px;width:23px"><b>9414</b></i><i class="c T" style="left:2373px;width:21px"><b>9412</b></i></div>
<div class="row" style="top:247px;height:56px"><i class="c T" style="left:2306px;width:23px"><b>9408</b></i><i class="c T" style="left:2329px;width:21px"><b>9406</b></i><i class="c T" style="left:2350px;width:23px"><b>9404</b></i><i class="c T" style="left:2373px;width:21px"><b>9402</b></i></div>
<div class="row" style="top:221px;height:57px"><i class="c T" style="left:2394px;width:21px"><b>9101</b></i></div>

<svg width="2530" height="500" style="position:absolute;left:0;top:0">
<g>
<use href="#ah" x="346" y="90" width="26" height="10"/><use href="#ah" x="517" y="90" width="26" height="10"/><use href="#ah" x="646" y="90" width="26" height="10"/><use href="#ah" x="775" y="90" width="26" height="10"/><use href="#ah" x="880" y="90" width="26" height="10"/><use href="#ah" x="1009" y="90" width="26" height="10"/><use href="#ah" x="1136" y="90" width="26" height="10"/><use href="#ah" x="1500" y="90" width="26" height="10"/><use href="#ah" x="1671" y="90" width="26" height="10"/><use href="#ah" x="1758" y="90" width="26" height="10"/><use href="#ah" x="1820" y="90" width="26" height="10"/><use href="#ah" x="1970" y="90" width="26" height="10"/><use href="#ah" x="2055" y="90" width="26" height="10"/>
<use href="#ah" x="216" y="110" width="26" height="10"/><use href="#ah" x="346" y="110" width="26" height="10"/><use href="#ah" x="474" y="110" width="26" height="10"/><use href="#ah" x="987" y="110" width="26" height="10"/><use href="#ah" x="1071" y="110" width="26" height="10"/><use href="#ah" x="1199" y="110" width="26" height="10"/><use href="#ah" x="1415" y="110" width="26" height="10"/><use href="#ah" x="1542" y="110" width="26" height="10"/><use href="#ah" x="1629" y="110" width="26" height="10"/><use href="#ah" x="1756" y="110" width="26" height="10"/><use href="#ah" x="2057" y="110" width="26" height="10"/><use href="#ah" x="2142" y="110" width="26" height="10"/><use href="#ah" x="2227" y="110" width="26" height="10"/>
<use href="#ah" x="216" y="380" width="26" height="10"/><use href="#ah" x="346" y="380" width="26" height="10"/><use href="#ah" x="474" y="380" width="26" height="10"/><use href="#ah" x="987" y="380" width="26" height="10"/><use href="#ah" x="1071" y="380" width="26" height="10"/><use href="#ah" x="1199" y="380" width="26" height="10"/><use href="#ah" x="1415" y="380" width="26" height="10"/><use href="#ah" x="1543" y="380" width="26" height="10"/><use href="#ah" x="1628" y="380" width="26" height="10"/><use href="#ah" x="1756" y="380" width="26" height="10"/><use href="#ah" x="2057" y="380" width="26" height="10"/><use href="#ah" x="2142" y="380" width="26" height="10"/><use href="#ah" x="2227" y="380" width="26" height="10"/>
<use href="#ah" x="346" y="402" width="26" height="10"/><use href="#ah" x="517" y="402" width="26" height="10"/><use href="#ah" x="646" y="402" width="26" height="10"/><use href="#ah" x="775" y="402" width="26" height="10"/><use href="#ah" x="967" y="402" width="26" height="10"/><use href="#ah" x="1010" y="402" width="26" height="10"/><use href="#ah" x="1136" y="402" width="26" height="10"/><use href="#ah" x="1500" y="402" width="26" height="10"/><use href="#ah" x="1671" y="402" width="26" height="10"/><use href="#ah" x="1798" y="402" width="26" height="10"/><use href="#ah" x="1927" y="402" width="26" height="10"/><use href="#ah" x="2056" y="402" width="26" height="10"/>
<use href="#av" x="1990" y="188" width="10" height="28"/><use href="#av" x="1990" y="281" width="10" height="28"/><use href="#av" x="2115" y="188" width="10" height="28"/><use href="#av" x="2115" y="281" width="10" height="28"/><use href="#av" x="2241" y="188" width="10" height="28"/><use href="#av" x="2241" y="281" width="10" height="28"/><use href="#av" x="2423" y="180" width="10" height="28"/><use href="#av" x="2423" y="291" width="10" height="28"/>
</g>
</svg>
</body></html>
